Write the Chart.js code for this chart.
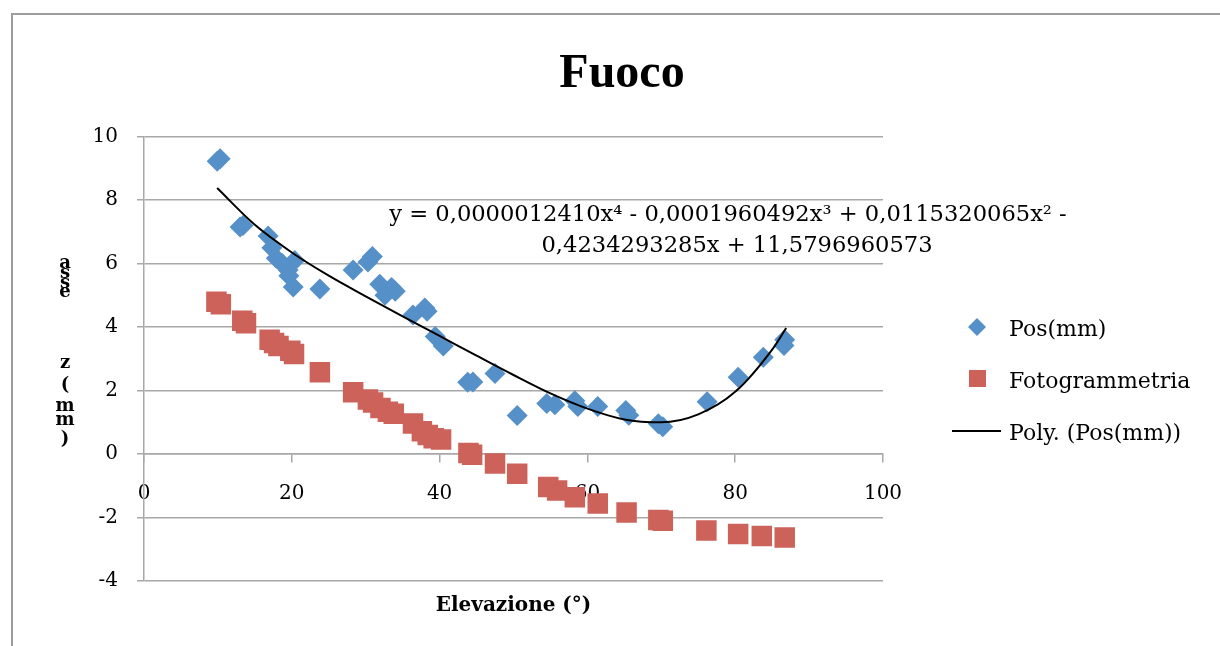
<!DOCTYPE html>
<html>
<head>
<meta charset="utf-8">
<script src="https://cdn.jsdelivr.net/npm/chart.js@4.4.1/dist/chart.umd.min.js"></script>
<style>
  html, body { margin: 0; padding: 0; background: #fff; }
  canvas { display: block; }
</style>
</head>
<body>
<canvas id="chart" width="1220" height="646"></canvas>
<script>
// values
const posX = [9.9, 10.3, 13.0, 13.4, 16.8, 17.3, 17.9, 18.7, 19.5, 19.6, 20.4, 20.2, 23.8, 28.3, 30.3, 30.9, 31.9, 32.6, 33.5, 34.0, 36.4, 38.0, 38.3, 39.4, 40.5, 43.8, 44.5, 47.5, 50.5, 54.5, 55.6, 58.3, 58.7, 61.4, 65.2, 65.6, 69.6, 70.2, 76.2, 80.4, 83.8, 86.7, 86.6];
const posY = [9.22, 9.30, 7.15, 7.20, 6.87, 6.50, 6.17, 6.00, 5.80, 5.62, 6.10, 5.26, 5.20, 5.80, 6.05, 6.22, 5.35, 5.00, 5.25, 5.13, 4.38, 4.60, 4.50, 3.70, 3.40, 2.26, 2.27, 2.54, 1.21, 1.59, 1.55, 1.68, 1.50, 1.50, 1.37, 1.22, 0.95, 0.86, 1.65, 2.42, 3.05, 3.60, 3.42];

const fotoX = [9.8, 10.4, 13.3, 13.8, 17.0, 17.6, 18.2, 19.8, 20.3, 23.8, 28.3, 30.3, 31.0, 32.0, 33.0, 33.8, 36.4, 37.6, 38.4, 39.2, 40.2, 43.9, 44.4, 47.5, 50.5, 54.7, 55.9, 58.3, 61.4, 65.3, 69.6, 70.2, 76.1, 80.4, 83.6, 86.7];
const fotoY = [4.80, 4.72, 4.20, 4.12, 3.60, 3.50, 3.40, 3.25, 3.15, 2.58, 1.95, 1.72, 1.62, 1.45, 1.33, 1.27, 0.96, 0.72, 0.60, 0.50, 0.46, 0.03, -0.02, -0.30, -0.62, -1.04, -1.15, -1.36, -1.56, -1.84, -2.08, -2.10, -2.41, -2.52, -2.58, -2.63];

// trendline as drawn in the picture
const trendX = [9.9, 15, 20, 25, 30, 35, 40, 45, 50, 55, 60, 65, 70, 75, 80, 85, 86.9];
const trendY = [8.38, 7.22, 6.35, 5.62, 4.97, 4.34, 3.72, 3.10, 2.49, 1.91, 1.43, 1.09, 1.00, 1.25, 1.96, 3.29, 3.97];

const xTicks = [0, 20, 40, 60, 80, 100];
const yTicks = [-4, -2, 0, 2, 4, 6, 8, 10];

const titleText = "Fuoco";
const xTitle = "Elevazione (°)";
const yTitleLetters = ["a", "s", "s", "e", "z", "(", "m", "m", ")"];
const eqLines = [
  "y = 0,0000012410x\u2074 - 0,0001960492x\u00B3 + 0,0115320065x\u00B2 -",
  "0,4234293285x + 11,5796960573",
];

const BLUE = "#5690c8";
const RED = "#cd625b";
const GRID = "#a8a8a8";
const SERIF = '"DejaVu Serif", serif';

const toPoints = (xs, ys) => xs.map((x, i) => ({ x, y: ys[i] }));

const framePlugin = {
  id: "frame",
  beforeDraw(chart) {
    const ctx = chart.ctx;
    ctx.save();
    ctx.fillStyle = "#fff";
    ctx.fillRect(0, 0, chart.width, chart.height);
    ctx.strokeStyle = "#9c9c9c";
    ctx.lineWidth = 2;
    ctx.beginPath();
    ctx.moveTo(12, chart.height);
    ctx.lineTo(12, 14);
    ctx.lineTo(chart.width, 14);
    ctx.stroke();
    ctx.restore();
  },
};

const textPlugin = {
  id: "extraText",
  afterDraw(chart) {
    const ctx = chart.ctx;
    ctx.save();
    ctx.fillStyle = "#000";

    // y axis title, one letter per line like the original
    ctx.font = `bold 18px ${SERIF}`;
    ctx.textAlign = "center";
    ctx.textBaseline = "alphabetic";
    const baselines = [268, 278, 288, 297, 368, 390, 411, 425, 444];
    yTitleLetters.forEach((ch, i) => ctx.fillText(ch, 65, baselines[i]));

    // trendline equation
    ctx.textBaseline = "middle";
    ctx.font = `20px ${SERIF}`;
    const w = ctx.measureText(eqLines[0]).width;
    const size = 20 * 679 / w;
    ctx.font = `${size.toFixed(1)}px ${SERIF}`;
    ctx.fillText(eqLines[0], 728, 215);
    ctx.fillText(eqLines[1], 737, 246);

    // legend
    ctx.font = `22px ${SERIF}`;
    ctx.textAlign = "left";
    const rows = [327, 379, 431];
    chart.data.datasets.forEach((ds, i) => {
      const y = rows[i];
      const cx = 977;
      if (ds.showLine) {
        ctx.strokeStyle = ds.borderColor;
        ctx.lineWidth = 2;
        ctx.beginPath();
        ctx.moveTo(952, y);
        ctx.lineTo(1001, y);
        ctx.stroke();
      } else if (ds.pointStyle === "rectRot") {
        ctx.fillStyle = ds.backgroundColor;
        ctx.beginPath();
        ctx.moveTo(cx, y - 9);
        ctx.lineTo(cx + 9, y);
        ctx.lineTo(cx, y + 9);
        ctx.lineTo(cx - 9, y);
        ctx.closePath();
        ctx.fill();
      } else {
        ctx.fillStyle = ds.backgroundColor;
        ctx.fillRect(cx - 8, y - 9, 17, 17);
      }
      ctx.fillStyle = "#000";
      ctx.fillText(ds.label, 1009, y + 3);
    });
    ctx.restore();
  },
};

new Chart(document.getElementById("chart"), {
  type: "scatter",
  data: {
    datasets: [
      {
        label: "Pos(mm)",
        data: toPoints(posX, posY),
        pointStyle: "rectRot",
        pointRadius: 10.5,
        pointHoverRadius: 10.5,
        backgroundColor: BLUE,
        borderColor: BLUE,
        borderWidth: 0,
        order: 2,
      },
      {
        label: "Fotogrammetria",
        data: toPoints(fotoX, fotoY),
        pointStyle: "rect",
        pointRadius: 14.5,
        pointHoverRadius: 14.5,
        backgroundColor: RED,
        borderColor: RED,
        borderWidth: 0,
        order: 1,
      },
      {
        label: "Poly. (Pos(mm))",
        data: toPoints(trendX, trendY),
        showLine: true,
        pointRadius: 0,
        borderColor: "#000",
        backgroundColor: "#000",
        borderWidth: 2,
        cubicInterpolationMode: "monotone",
        order: 0,
      },
    ],
  },
  options: {
    responsive: false,
    animation: false,
    layout: { padding: { left: 24, right: 0, top: 0, bottom: 0 } },
    plugins: {
      legend: { display: false },
      tooltip: { enabled: false },
      title: {
        display: true,
        text: titleText,
        color: "#000",
        font: { family: '"Liberation Serif", serif', size: 48, weight: "bold" },
        padding: { top: 46, bottom: 33 },
      },
    },
    scales: {
      x: {
        type: "linear",
        position: { y: 0 },
        min: 0,
        max: 100,
        afterBuildTicks: (s) => { s.ticks = xTicks.map((v) => ({ value: v })); },
        ticks: {
          color: "#000",
          font: { family: SERIF, size: 20 },
          padding: 20,
          autoSkip: false,
          maxRotation: 0,
        },
        grid: { drawOnChartArea: false, drawTicks: true, tickLength: 8, color: GRID, lineWidth: 1.5 },
        border: { display: true, color: GRID, width: 1.5 },
      },
      xTitle: {
        type: "linear",
        position: "bottom",
        min: 0,
        max: 100,
        ticks: { display: false },
        grid: { display: false },
        border: { display: false },
        title: {
          display: true,
          text: xTitle,
          color: "#000",
          font: { family: SERIF, size: 20, weight: "bold" },
          padding: { top: 5, bottom: 28 },
        },
      },
      y: {
        type: "linear",
        position: "left",
        min: -4,
        max: 10,
        afterBuildTicks: (s) => { s.ticks = yTicks.map((v) => ({ value: v })); },
        afterFit: (s) => { s.width = 120; },
        ticks: { color: "#000", font: { family: SERIF, size: 20 }, padding: 19 },
        grid: { color: GRID, lineWidth: 1.5, tickLength: 7 },
        border: { display: true, color: GRID, width: 1.5 },
      },
      ySpacer: {
        type: "linear",
        position: "right",
        ticks: { display: false },
        grid: { display: false },
        border: { display: false },
        afterFit: (s) => { s.width = 337; },
      },
    },
  },
  plugins: [framePlugin, textPlugin],
});
</script>
</body>
</html>
